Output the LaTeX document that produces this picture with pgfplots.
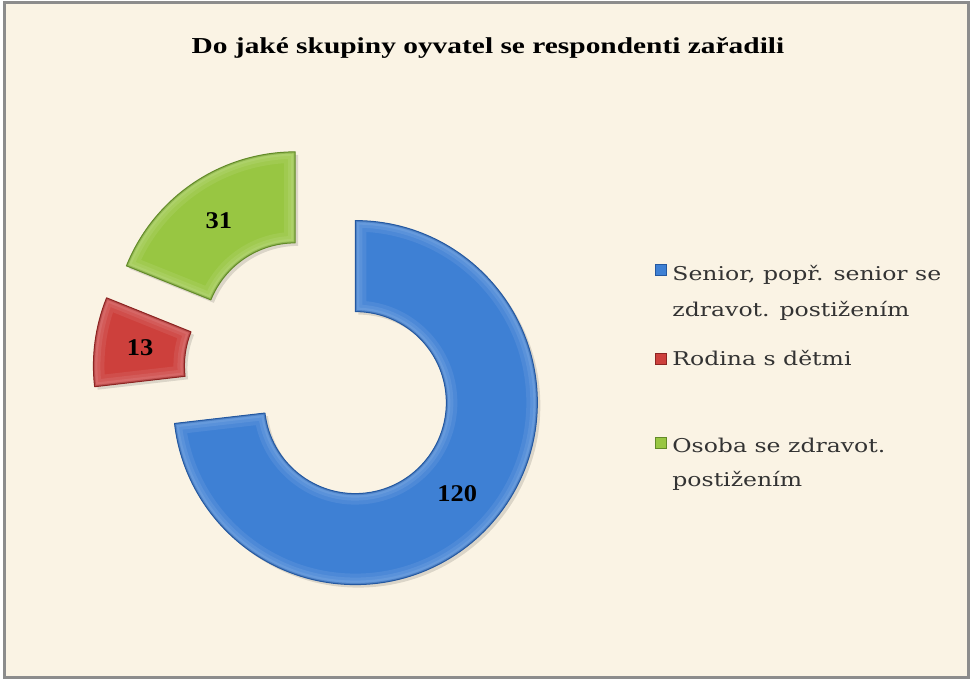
\documentclass[border=0pt]{standalone}
\usepackage{pgfplots}
\usepackage{pgfplotstable}
\usepackage{fontspec}
\setmainfont{Liberation Serif}
\newfontfamily\legendfont{DejaVu Serif}
\pgfplotsset{compat=1.18}

\definecolor{bgcream}{RGB}{250,243,228}
\definecolor{framegray}{RGB}{140,140,140}
\definecolor{segblue}{RGB}{62,128,212}
\definecolor{segblueD}{RGB}{36,88,160}
\definecolor{segred}{RGB}{205,64,60}
\definecolor{segredD}{RGB}{140,36,34}
\definecolor{seggreen}{RGB}{152,198,66}
\definecolor{seggreenD}{RGB}{98,138,40}

% doughnut values, clockwise from 12 o'clock
\pgfplotstableread{
value
120
13
31
}\piedata

% one exploded ring sector: #1 start angle, #2 end angle, #3 mid angle
\newcommand\segpath[3]{(axis cs:321,312) ++(#3:\expl) ++(#1:\Rout)
    arc[start angle=#1, end angle=#2, radius=\Rout]
    -- ++(#2:-45.5pt)
    arc[start angle=#2, end angle=#1, radius=\Rin] -- cycle}
\newcommand\segment[5]{%
    \fill[black, opacity=0.12, xshift=1.5pt, yshift=-1.5pt] \segpath{#1}{#2}{#3};
    \fill[#4] \segpath{#1}{#2}{#3};
    \begin{scope}
        \clip \segpath{#1}{#2}{#3};
        \draw[white, opacity=0.08, line width=11pt, line join=round] \segpath{#1}{#2}{#3};
        \draw[white, opacity=0.08, line width=7pt, line join=round] \segpath{#1}{#2}{#3};
        \draw[white, opacity=0.08, line width=4pt, line join=round] \segpath{#1}{#2}{#3};
        \draw[#5, opacity=0.35, line width=1.6pt, line join=round] \segpath{#1}{#2}{#3};
    \end{scope}
    \draw[#5, line width=0.5pt, line join=round] \segpath{#1}{#2}{#3};
}

\begin{document}
\begin{tikzpicture}
\pgfplotstablegetelem{0}{value}\of\piedata \let\vA\pgfplotsretval
\pgfplotstablegetelem{1}{value}\of\piedata \let\vB\pgfplotsretval
\pgfplotstablegetelem{2}{value}\of\piedata \let\vC\pgfplotsretval
\pgfmathsetmacro\tot{\vA+\vB+\vC}
\pgfmathsetmacro\aA{90}
\pgfmathsetmacro\aB{\aA-360*(\vA/\tot)}
\pgfmathsetmacro\aC{\aB-360*(\vB/\tot)}
\pgfmathsetmacro\aD{\aC-360*(\vC/\tot)}
\pgfmathsetmacro\mA{(\aA+\aB)/2}
\pgfmathsetmacro\mB{(\aB+\aC)/2}
\pgfmathsetmacro\mC{(\aC+\aD)/2}
\def\Rout{91pt}
\def\Rin{45.5pt}
\def\Rmid{68.25pt}
\def\expl{23pt}

\begin{axis}[
    x=0.5pt, y=0.5pt,
    xmin=0, xmax=975, ymin=0, ymax=684,
    hide axis, clip=false,
]
% page and frame
\fill[white] (axis cs:0,0) rectangle (axis cs:975,684);
\fill[bgcream] (axis cs:4,6) rectangle (axis cs:968,681);
\draw[framegray, line width=1.5pt] (axis cs:4,6) rectangle (axis cs:968,681);

% title
\node[anchor=base, font=\bfseries\fontsize{11.4}{13}\selectfont]
    at (axis cs:488,630) {\scalebox{1.29}[1]{Do jaké skupiny oyvatel se respondenti zařadili}};

% segments
\segment{\aA}{\aB}{\mA}{segblue}{segblueD}
\segment{\aB}{\aC}{\mB}{segred}{segredD}
\segment{\aC}{\aD}{\mC}{seggreen}{seggreenD}

% data labels
\path (axis cs:321,312) ++(\mA:\expl) ++(\mA:\Rmid)
    node[font=\bfseries\fontsize{12}{14}\selectfont] {\scalebox{1.1}[1]{\vA}};
\path (axis cs:321,312) ++(\mB:\expl) ++(\mB:\Rmid)
    node[font=\bfseries\fontsize{12}{14}\selectfont] {\scalebox{1.1}[1]{\vB}};
\path (axis cs:321,312) ++(\mC:\expl) ++(\mC:\Rmid)
    node[font=\bfseries\fontsize{12}{14}\selectfont] {\scalebox{1.1}[1]{\vC}};

% legend
\filldraw[fill=segblue, draw=segblueD, line width=0.4pt] (axis cs:655,409) rectangle (axis cs:666,420);
\filldraw[fill=segred, draw=segredD, line width=0.4pt] (axis cs:655,320) rectangle (axis cs:666,331);
\filldraw[fill=seggreen, draw=seggreenD, line width=0.4pt] (axis cs:655,236) rectangle (axis cs:666,247);
\begin{scope}[every node/.style={anchor=base west, inner sep=0pt, text=black!80,
    font=\legendfont\fontsize{9.5}{11}\selectfont}]
\node at (axis cs:672,403) {\scalebox{1.24}[1]{Senior, popř. senior se}};
\node at (axis cs:672,367) {\scalebox{1.24}[1]{zdravot. postižením}};
\node at (axis cs:672,318) {\scalebox{1.24}[1]{Rodina s dětmi}};
\node at (axis cs:672,231) {\scalebox{1.24}[1]{Osoba se zdravot.}};
\node at (axis cs:672,197) {\scalebox{1.24}[1]{postižením}};
\end{scope}
\end{axis}
\end{tikzpicture}
\end{document}
